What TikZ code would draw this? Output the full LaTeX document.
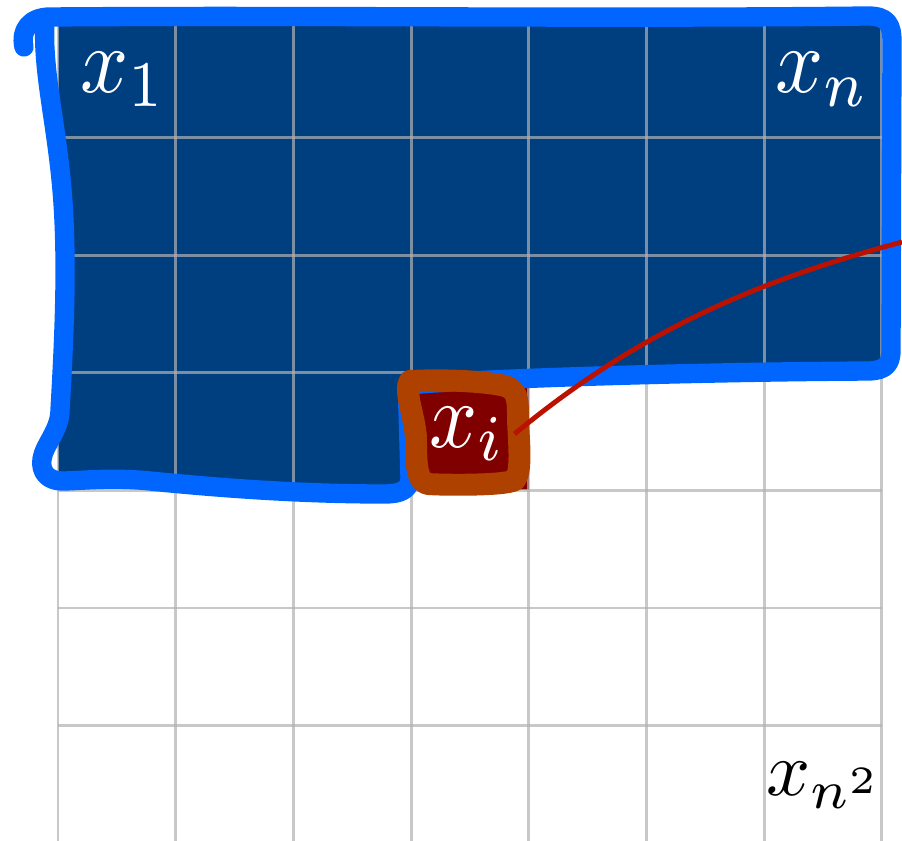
\documentclass[tikz,border=0pt]{standalone}
\usepackage{tikz}
\usetikzlibrary{positioning}
\definecolor{cellBlue}{HTML}{003F7F}
\definecolor{cellRed}{HTML}{800000}
\definecolor{gridGray}{HTML}{B1B1B1}
\definecolor{penBlue}{HTML}{0066FF}
\definecolor{penOrange}{HTML}{AE4100}
\definecolor{penRed}{HTML}{BB1100}
\newcommand{\bigmath}[1]{\scalebox{4.8}[5.3]{$#1$}}

\begin{document}
\begin{tikzpicture}[x=0.02cm, y=-0.02cm,
    celltxt/.style={inner sep=0pt, anchor=base west, text=white},
    gridline/.style={draw=gridGray, opacity=0.7, line width=1.7pt},
    pen/.style={line width=11pt, line cap=round, line join=round}]
  \useasboundingbox (0,0) rectangle (902,841);
  % filled part: rows 1-3 and the start of row 4
  \fill[cellBlue] (58,20) rectangle (882,372.8);
  \fill[cellBlue] (58,372.8) rectangle (411.1,486);
  % current cell
  \fill[cellRed] (411.1,372.8) rectangle (528.9,490.4);
  % 7x7 grid
  \foreach \k in {0,...,7} {
    \draw[gridline] (58+\k*117.71,20) -- (58+\k*117.71,843.2);
    \draw[gridline] (58,20+\k*117.6) -- (882,20+\k*117.6);
  }
  % hand drawn outline round the filled part
  \draw[pen, penBlue] (24,47) .. controls (20,30) and (30,17) .. (50,17)
    .. controls (300,15) and (600,19) .. (868,16)
    .. controls (888,16) and (892,25) .. (892,42)
    -- (891,350)
    .. controls (891,365) and (885,370) .. (870,371)
    .. controls (700,372) and (500,378) .. (420,384)
    .. controls (408,385) and (407,395) .. (408,410)
    -- (410,478)
    .. controls (410,490) and (400,494) .. (385,494)
    .. controls (300,494) and (220,488) .. (150,481)
    .. controls (110,477) and (80,481) .. (62,481)
    .. controls (48,481) and (40,472) .. (42,459)
    .. controls (44,445) and (60,430) .. (60,410)
    .. controls (64,340) and (68,260) .. (62,190)
    .. controls (56,120) and (42,70) .. (45,20);
  % outline round the current cell
  \draw[pen, penOrange, line width=12.5pt] (410,381) .. controls (450,379) and (490,382) .. (505,386)
    .. controls (518,390) and (518,400) .. (518,420)
    .. controls (519,445) and (522,470) .. (515,480)
    .. controls (505,486) and (440,485) .. (428,484)
    .. controls (418,482) and (416,470) .. (416,440)
    .. controls (416,420) and (403,390) .. (410,381) -- cycle;
  % labels
  \node[celltxt] (x1) at (80,93) {\bigmath{x_1}};
  \node[celltxt] (xn) at (775,93) {\bigmath{x_n}};
  \node[celltxt, inner xsep=5pt] (xi) at (420,447) {\bigmath{x_i}};
  \node[celltxt, text=black] (xnn) at (766,795) {\scalebox{4.4}{$x_{n^2}$}};
  % link out of the picture
  \coordinate (edge) at (902,242);
  \draw[penRed, line width=2.8pt] (xi.east) .. controls (640,330) and (760,280) .. (edge);
\end{tikzpicture}
\end{document}
